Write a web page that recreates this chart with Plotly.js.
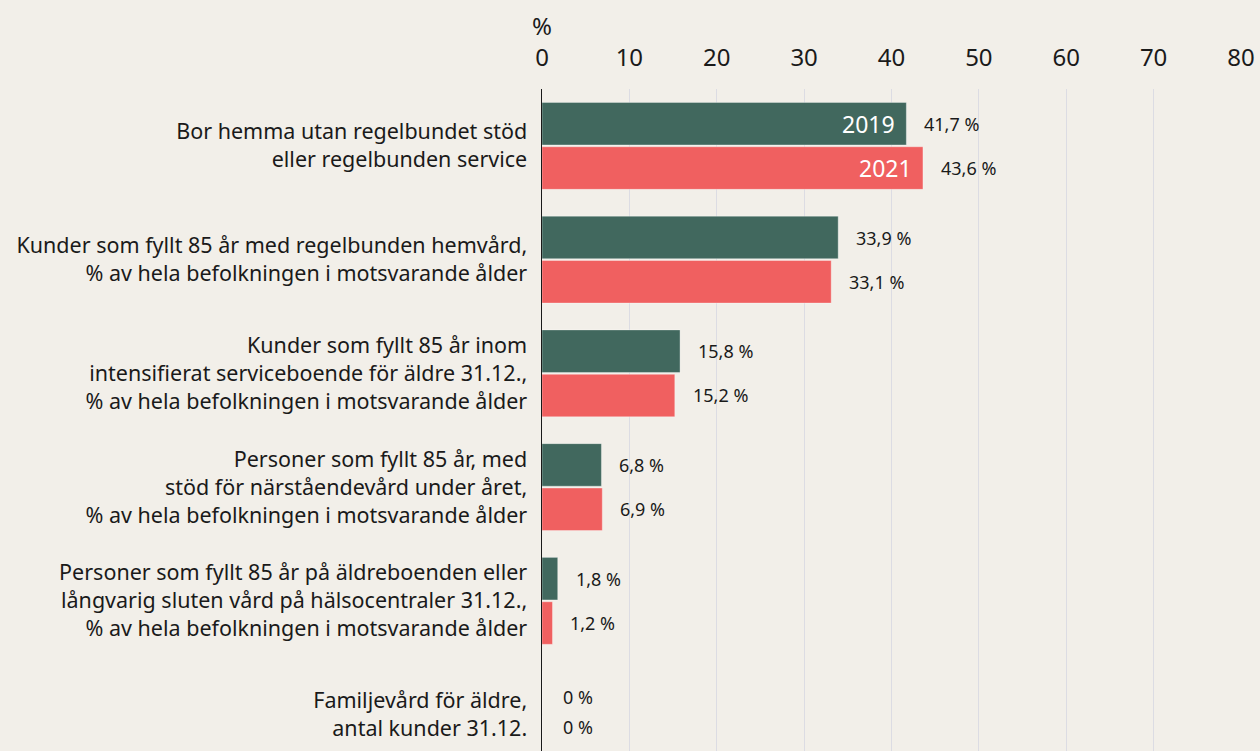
<!DOCTYPE html>
<html>
<head>
<meta charset="utf-8">
<script src="https://cdn.plot.ly/plotly-3.0.1.min.js"></script>
<style>html,body{margin:0;padding:0;background:#f2efe9;}#chart{width:1260px;height:751px;}</style>
</head>
<body>
<div id="chart"></div>
<script>
const categories = [
  "Bor hemma utan regelbundet stöd<br>eller regelbunden service",
  "Kunder som fyllt 85 år med regelbunden hemvård,<br>% av hela befolkningen i motsvarande ålder",
  "Kunder som fyllt 85 år inom<br>intensifierat serviceboende för äldre 31.12.,<br>% av hela befolkningen i motsvarande ålder",
  "Personer som fyllt 85 år, med<br>stöd för närståendevård under året,<br>% av hela befolkningen i motsvarande ålder",
  "Personer som fyllt 85 år på äldreboenden eller<br>långvarig sluten vård på hälsocentraler 31.12.,<br>% av hela befolkningen i motsvarande ålder",
  "Familjevård för äldre,<br>antal kunder 31.12."
];
const values2019 = [41.7, 33.9, 15.8, 6.8, 1.8, 0];
const values2021 = [43.6, 33.1, 15.2, 6.9, 1.2, 0];
const seriesNames = ["2019", "2021"];
const tickValues = [0, 10, 20, 30, 40, 50, 60, 70, 80];

const colors = ["#41685e", "#f06060"];
const fontFam = "Noto Sans, sans-serif";

function fmt(v) { return String(v).replace(".", ",") + " %"; }

const traces = [values2019, values2021].map((vals, k) => ({
  type: "bar",
  orientation: "h",
  name: seriesNames[k],
  y: categories,
  x: vals,
  marker: { color: colors[k], line: { color: "rgba(255,255,255,0.35)", width: 1 } },
  hoverinfo: "x"
}));

const annotations = [];
[values2019, values2021].forEach((vals, k) => {
  vals.forEach((v, i) => {
    const last = (i === categories.length - 1);
    const ys = last ? (k === 0 ? 18 : -12) : (k === 0 ? 22 : -22);
    annotations.push({
      xref: "x", yref: "y", x: v, y: categories[i],
      text: fmt(v), showarrow: false, xanchor: "left", yanchor: "middle",
      xshift: last ? 19 : 16, yshift: ys,
      font: { family: fontFam, size: 18, color: "#1a1a1a" }
    });
  });
  annotations.push({
    xref: "x", yref: "y", x: vals[0], y: categories[0],
    text: seriesNames[k], showarrow: false, xanchor: "right", yanchor: "middle",
    xshift: -9, yshift: k === 0 ? 22 : -22,
    font: { family: fontFam, size: 23, color: "#ffffff" }
  });
});
annotations.push({
  xref: "x", yref: "paper", x: 0, y: 1, yshift: 64,
  text: "%", showarrow: false, xanchor: "center", yanchor: "middle",
  font: { family: fontFam, size: 24, color: "#1a1a1a" }
});

const layout = {
  width: 1260, height: 751,
  paper_bgcolor: "#f2efe9", plot_bgcolor: "#f2efe9",
  margin: { l: 542, r: 19, t: 89, b: 0 },
  showlegend: false,
  barmode: "group",
  bargap: 0.22,
  bargroupgap: 0.04,
  font: { family: fontFam, color: "#1a1a1a" },
  xaxis: {
    side: "top", range: [0, 80], tickvals: tickValues,
    ticks: "outside", ticklen: 12, tickcolor: "rgba(0,0,0,0)",
    showgrid: true, gridcolor: "#dcdce3", gridwidth: 1,
    zeroline: false, showline: false,
    tickfont: { family: fontFam, size: 24, color: "#1a1a1a" },
    fixedrange: true
  },
  yaxis: {
    type: "category", range: [5.32, -0.5],
    ticks: "outside", ticklen: 9, tickcolor: "rgba(0,0,0,0)",
    showline: true, linecolor: "#1a1a1a", linewidth: 1.5,
    showgrid: false, zeroline: false,
    tickfont: { family: fontFam, size: 21.5, color: "#1a1a1a" },
    fixedrange: true
  },
  annotations: annotations
};

Plotly.newPlot("chart", traces, layout, { displayModeBar: false, staticPlot: true });
</script>
</body>
</html>
